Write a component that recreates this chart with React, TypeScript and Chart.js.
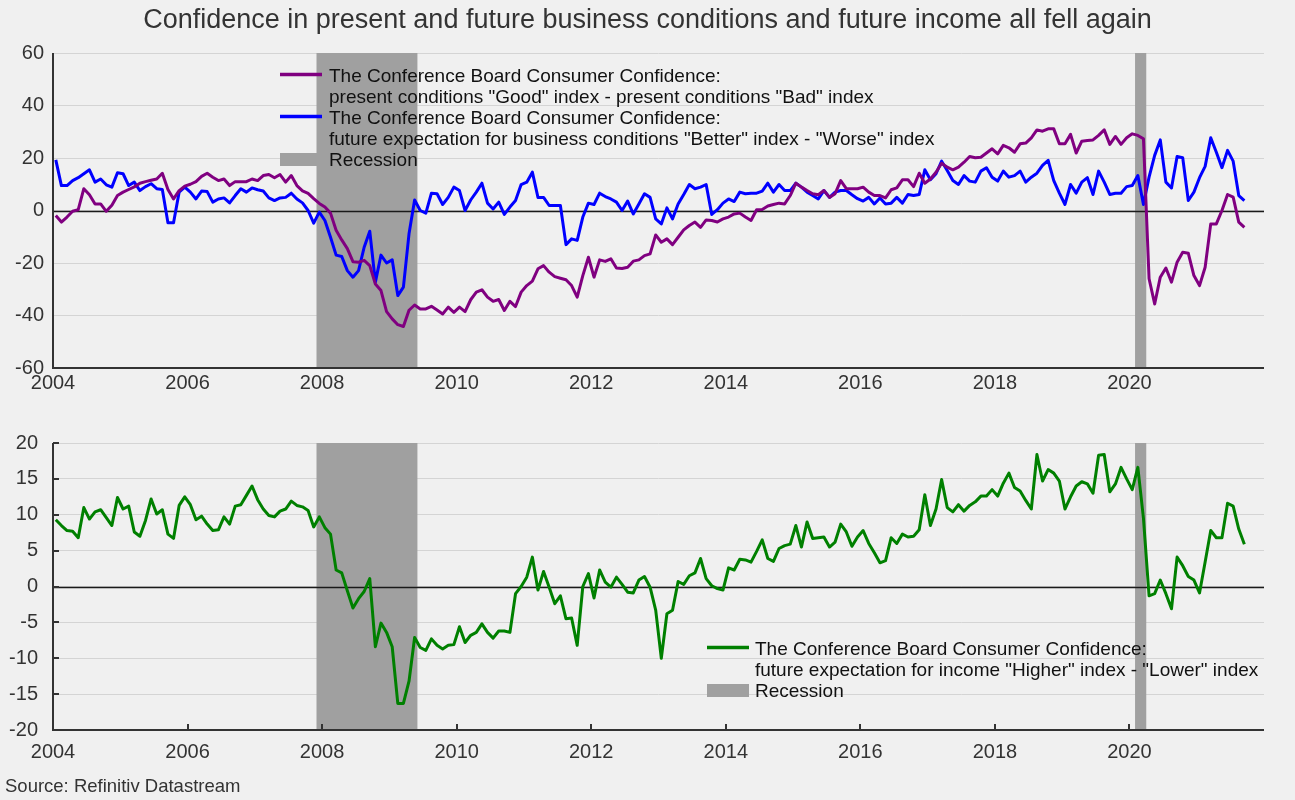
import React, { useEffect, useRef } from "react";
import { Chart, registerables } from "chart.js";

Chart.register(...registerables);

const FONT = "'Liberation Sans', Arial, Helvetica, sans-serif";

// Monthly observations, January 2004 through September 2021
const START_YEAR = 2004;
const X_MIN = 2004;
const X_MAX = 2022;
const X_STEP = 2;

const presentGoodMinusBad = [
  -1.9, -4.4, -2.5, -0.3, 0.3, 8.3, 6.0, 2.5, 2.5, -0.3, 2.0, 5.7, // 2004
  7.0, 8.0, 9.0, 10.4, 11.0, 11.5, 12.0, 14.2, 8.0, 4.4, 7.6, 9.3, // 2005
  10.0, 11.0, 13.0, 14.2, 12.7, 11.4, 12.0, 9.5, 11.0, 11.0, 11.0, 12.0, // 2006
  11.4, 13.3, 13.7, 12.5, 13.7, 10.8, 13.3, 9.5, 7.5, 6.5, 4.5, 2.7, // 2007
  1.3, -1.0, -7.5, -11.2, -14.5, -19.5, -19.7, -19.0, -21.0, -28.0, -30.5, -38.5, // 2008
  -41.3, -43.5, -44.2, -38.0, -36.0, -37.5, -37.5, -36.5, -37.9, -39.4, -36.8, -38.8, // 2009
  -36.8, -38.5, -34.0, -31.1, -30.2, -33.0, -34.6, -33.9, -38.1, -34.6, -36.6, -31.1, // 2010
  -28.6, -26.9, -22.2, -21.0, -23.5, -25.2, -25.8, -26.4, -28.6, -33.0, -24.8, -17.8, // 2011
  -25.4, -18.8, -19.4, -18.4, -21.9, -22.1, -21.6, -19.3, -18.8, -17.2, -16.5, -9.3, // 2012
  -12.1, -10.8, -13.0, -10.2, -7.4, -5.7, -4.4, -6.4, -3.6, -3.8, -4.4, -3.2, // 2013
  -2.5, -1.3, -1.0, -2.5, -3.8, 0.3, 0.4, 1.7, 2.3, 2.8, 2.5, 5.7, // 2014
  10.4, 8.9, 7.6, 6.4, 6.0, 7.6, 5.0, 6.4, 11.4, 8.3, 8.3, 8.3, // 2015
  8.9, 7.0, 5.7, 5.7, 4.8, 7.9, 8.6, 11.7, 11.7, 9.1, 14.2, 10.4, // 2016
  12.0, 14.6, 18.0, 16.5, 15.5, 16.5, 18.4, 20.6, 20.1, 20.3, 21.9, 23.5, // 2017
  21.6, 24.8, 23.9, 22.2, 25.4, 25.7, 27.7, 30.7, 30.2, 31.1, 31.1, 25.4, // 2018
  25.4, 29.0, 21.9, 26.4, 26.7, 26.9, 28.6, 30.7, 25.2, 28.2, 25.2, 27.7, // 2019
  29.2, 28.6, 27.3, -26.0, -35.6, -25.4, -21.9, -27.3, -19.7, -15.9, -16.3, -24.8, // 2020
  -28.6, -21.6, -5.1, -5.1, 0.0, 6.1, 5.1, -4.4, -6.4, // 2021
];

const businessBetterMinusWorse = [
  19.3, 9.5, 9.5, 11.4, 12.5, 14.0, 15.5, 10.8, 12.0, 9.8, 8.9, 14.4, // 2004
  14.0, 9.5, 10.8, 7.6, 9.1, 10.2, 8.3, 8.0, -4.7, -4.7, 7.0, 8.9, // 2005
  7.0, 4.4, 7.4, 7.2, 3.2, 4.4, 4.8, 2.9, 5.7, 8.3, 7.0, 8.6, // 2006
  7.9, 7.4, 4.8, 3.8, 4.8, 5.0, 6.6, 4.4, 2.9, 0.0, -4.8, -0.6, // 2007
  -3.8, -10.2, -17.0, -17.5, -22.9, -25.4, -22.9, -14.0, -7.9, -27.3, -17.0, -20.0, // 2008
  -18.8, -32.4, -29.2, -8.9, 4.0, 0.0, -1.0, 6.6, 6.4, 2.3, 5.0, 8.9, // 2009
  7.6, 0.0, 4.0, 7.0, 10.4, 2.8, 0.6, 3.2, -1.5, 1.3, 3.8, 9.9, // 2010
  10.8, 14.6, 5.0, 5.0, 1.9, 1.9, 1.9, -13.0, -10.8, -11.4, -2.5, 2.8, // 2011
  2.3, 6.6, 5.3, 4.4, 3.2, 0.0, 3.6, -1.3, 2.5, 6.4, 5.0, -3.2, // 2012
  -5.1, 1.0, -3.2, 2.5, 6.1, 9.9, 8.3, 8.9, 9.9, -1.5, 0.3, 2.8, // 2013
  4.4, 3.4, 7.0, 6.4, 6.6, 6.6, 7.4, 10.4, 7.0, 9.9, 7.6, 7.6, // 2014
  10.4, 8.9, 7.0, 5.7, 4.4, 7.6, 5.0, 7.0, 7.6, 7.6, 6.0, 4.5, // 2015
  3.6, 5.0, 2.5, 4.8, 2.5, 2.8, 5.0, 2.8, 6.1, 5.7, 6.1, 15.5, // 2016
  11.7, 14.0, 18.8, 15.2, 11.4, 9.9, 13.3, 11.2, 10.8, 15.0, 16.3, 12.7, // 2017
  11.2, 15.0, 12.7, 13.3, 15.0, 10.8, 12.7, 14.2, 17.2, 19.1, 11.4, 6.6, // 2018
  2.3, 9.9, 6.6, 10.8, 12.5, 6.1, 15.0, 10.8, 6.1, 6.6, 6.6, 9.1, // 2019
  9.5, 13.3, 2.3, 12.7, 21.0, 26.9, 10.8, 8.6, 20.6, 20.1, 3.8, 7.0, // 2020
  12.5, 16.8, 27.7, 22.2, 16.3, 22.9, 18.8, 5.7, 3.8, // 2021
];

const incomeHigherMinusLower = [
  9.3, 8.5, 7.8, 7.7, 6.8, 11.0, 9.4, 10.4, 10.7, 9.6, 8.5, 12.4, // 2004
  10.8, 11.2, 7.6, 7.0, 9.2, 12.2, 10.1, 10.7, 7.3, 6.7, 11.3, 12.5, // 2005
  11.4, 9.3, 9.8, 8.7, 7.8, 7.9, 9.7, 8.7, 11.2, 11.4, 12.7, 14.0, // 2006
  12.1, 10.8, 9.9, 9.7, 10.5, 10.8, 11.9, 11.3, 11.1, 10.6, 8.3, 9.7, // 2007
  8.2, 7.3, 2.3, 1.9, -0.6, -3.0, -1.7, -0.7, 1.1, -8.4, -5.1, -6.4, // 2008
  -8.4, -16.3, -16.3, -13.2, -7.1, -8.5, -8.9, -7.3, -8.2, -8.7, -8.2, -8.1, // 2009
  -5.6, -7.8, -6.8, -6.4, -5.2, -6.4, -7.2, -6.2, -6.2, -6.4, -1.0, 0.0, // 2010
  1.3, 4.1, -0.5, 2.1, -0.1, -2.4, -1.3, -4.5, -4.4, -8.2, 0.0, 1.8, // 2011
  -1.6, 2.3, 0.6, -0.1, 1.3, 0.3, -0.8, -0.9, 0.9, 1.4, -0.1, -3.3, // 2012
  -10.0, -3.8, -3.3, 0.7, 0.3, 1.5, 1.9, 3.9, 1.1, 0.1, -0.3, -0.5, // 2013
  2.6, 2.3, 3.8, 3.7, 3.4, 4.9, 6.5, 3.9, 3.5, 5.3, 5.7, 5.9, // 2014
  8.5, 5.5, 9.0, 6.7, 6.8, 6.9, 5.5, 6.2, 8.7, 7.6, 5.6, 6.9, // 2015
  7.8, 6.0, 4.7, 3.3, 3.6, 6.8, 6.0, 7.3, 6.9, 7.0, 7.9, 12.8, // 2016
  8.5, 10.8, 14.9, 11.0, 10.4, 11.4, 10.5, 11.3, 11.8, 12.6, 12.6, 13.5, // 2017
  12.6, 14.4, 15.8, 13.8, 13.3, 12.0, 10.8, 18.4, 14.7, 16.3, 15.8, 14.7, // 2018
  10.8, 12.5, 14.0, 14.6, 14.3, 13.0, 18.3, 18.4, 13.2, 14.3, 16.6, 15.0, // 2019
  13.5, 16.6, 9.5, -1.3, -1.0, 0.9, -1.0, -3.1, 4.1, 2.9, 1.4, 0.9, // 2020
  -0.9, 3.4, 7.8, 6.8, 6.8, 11.6, 11.2, 8.0, 5.9, // 2021
];

// NBER recessions (start of peak month to start of trough month)
const recessionStart = [2007 + 11 / 12, 2020 + 1 / 12];
const recessionEnd = [2009 + 5 / 12, 2020 + 3 / 12];

const TITLE =
  "Confidence in present and future business conditions and future income all fell again";
const SOURCE = "Source: Refinitiv Datastream";

const topLegendItems = [
  {
    kind: "line",
    color: "#800080",
    lines: [
      "The Conference Board Consumer Confidence:",
      'present conditions "Good" index - present conditions "Bad" index',
    ],
  },
  {
    kind: "line",
    color: "#0000ff",
    lines: [
      "The Conference Board Consumer Confidence:",
      'future expectation for business conditions "Better" index - "Worse" index',
    ],
  },
  { kind: "box", color: "#a0a0a0", lines: ["Recession"] },
];

const bottomLegendItems = [
  {
    kind: "line",
    color: "#008000",
    lines: [
      "The Conference Board Consumer Confidence:",
      'future expectation for income "Higher" index - "Lower" index',
    ],
  },
  { kind: "box", color: "#a0a0a0", lines: ["Recession"] },
];

const toPoints = (arr: number[]) =>
  arr.map((v, i) => ({ x: START_YEAR + (i + 0.5) / 12, y: v }));

const decorPlugin = {
  id: "decor",
  beforeDatasetsDraw(chart: any, _args: any, opts: any) {
    const { ctx, chartArea: a, scales } = chart;
    const xs = scales.x;
    const ys = scales.y;
    ctx.save();
    ctx.fillStyle = "#a0a0a0";
    for (let k = 0; k < recessionStart.length; k++) {
      const x0 = xs.getPixelForValue(recessionStart[k]);
      const x1 = xs.getPixelForValue(recessionEnd[k]);
      ctx.fillRect(x0, a.top, x1 - x0, a.bottom - a.top);
    }
    // zero line
    const y0 = Math.round(ys.getPixelForValue(0)) + 0.5;
    ctx.strokeStyle = "#1a1a1a";
    ctx.lineWidth = 1.3;
    ctx.beginPath();
    ctx.moveTo(a.left, y0);
    ctx.lineTo(a.right, y0);
    ctx.stroke();
    // axes
    ctx.strokeStyle = "#333333";
    ctx.lineWidth = 2;
    ctx.beginPath();
    ctx.moveTo(a.left, a.top);
    ctx.lineTo(a.left, a.bottom);
    ctx.lineTo(a.right, a.bottom);
    ctx.stroke();
    if (opts.innerTicks) {
      ctx.lineWidth = 2;
      ctx.beginPath();
      ys.ticks.forEach((t: any) => {
        const y = Math.round(ys.getPixelForValue(t.value));
        ctx.moveTo(a.left, y);
        ctx.lineTo(a.left + 6, y);
      });
      xs.ticks.forEach((t: any) => {
        if (t.value >= X_MAX) return;
        const x = Math.round(xs.getPixelForValue(t.value));
        ctx.moveTo(x, a.bottom);
        ctx.lineTo(x, a.bottom - 6);
      });
      ctx.stroke();
    }
    ctx.restore();
  },
  afterDatasetsDraw(chart: any, _args: any, opts: any) {
    const lg = opts.legend;
    if (!lg) return;
    const { ctx } = chart;
    ctx.save();
    ctx.font = `19px ${FONT}`;
    ctx.textBaseline = "alphabetic";
    ctx.textAlign = "left";
    let base = lg.baseline;
    lg.items.forEach((item: any) => {
      if (item.kind === "line") {
        ctx.strokeStyle = item.color;
        ctx.lineWidth = 3.5;
        ctx.beginPath();
        ctx.moveTo(lg.x, base - 7.5);
        ctx.lineTo(lg.x + lg.swatch, base - 7.5);
        ctx.stroke();
      } else {
        ctx.fillStyle = item.color;
        ctx.fillRect(lg.x, base - 13, lg.swatch, 13);
      }
      ctx.fillStyle = "#111111";
      item.lines.forEach((txt: string) => {
        ctx.fillText(txt, lg.textX, base);
        base += lg.step;
      });
    });
    ctx.restore();
  },
};

function buildConfig(p: {
  datasets: any[];
  yMin: number;
  yMax: number;
  yStep: number;
  padding: any;
  xPad: number;
  yPad: number;
  decor: any;
}) {
  const tickFont = { size: 20, family: FONT };
  return {
    type: "line",
    data: { datasets: p.datasets },
    options: {
      animation: false,
      responsive: false,
      maintainAspectRatio: false,
      events: [],
      layout: { padding: p.padding },
      plugins: {
        legend: { display: false },
        tooltip: { enabled: false },
        title: { display: false },
        decor: p.decor,
      },
      scales: {
        x: {
          type: "linear",
          min: X_MIN,
          max: X_MAX,
          afterFit: (s: any) => {
            s.height = 32;
          },
          grid: { display: false, drawTicks: false },
          border: { display: false },
          ticks: {
            stepSize: X_STEP,
            autoSkip: false,
            maxRotation: 0,
            padding: p.xPad,
            color: "#333333",
            font: tickFont,
            callback: (v: any) =>
              Number(v) >= X_MAX ? "" : String(Math.round(Number(v))),
          },
        },
        y: {
          min: p.yMin,
          max: p.yMax,
          afterFit: (s: any) => {
            s.width = 53;
          },
          grid: { color: "#d4d4d4", lineWidth: 1, drawTicks: false },
          border: { display: false },
          ticks: {
            stepSize: p.yStep,
            padding: p.yPad,
            color: "#333333",
            font: tickFont,
          },
        },
      },
    },
    plugins: [decorPlugin],
  };
}

const lineDs = (label: string, arr: number[], color: string) => ({
  label,
  data: toPoints(arr),
  borderColor: color,
  backgroundColor: color,
  borderWidth: 3,
  pointRadius: 0,
  tension: 0,
  fill: false,
  borderJoinStyle: "round",
});

export default function App() {
  const topRef = useRef<HTMLCanvasElement>(null);
  const botRef = useRef<HTMLCanvasElement>(null);

  useEffect(() => {
    const top = new Chart(
      topRef.current as HTMLCanvasElement,
      buildConfig({
        datasets: [
          lineDs("Present conditions Good - Bad", presentGoodMinusBad, "#800080"),
          lineDs("Business conditions Better - Worse", businessBetterMinusWorse, "#0000ff"),
        ],
        yMin: -60,
        yMax: 60,
        yStep: 20,
        padding: { top: 53, right: 31, bottom: 0, left: 0 },
        xPad: 3,
        yPad: 9,
        decor: {
          innerTicks: false,
          legend: { x: 280, swatch: 42, textX: 329, baseline: 82, step: 21, items: topLegendItems },
        },
      }) as any
    );
    const bottom = new Chart(
      botRef.current as HTMLCanvasElement,
      buildConfig({
        datasets: [lineDs("Income Higher - Lower", incomeHigherMinusLower, "#008000")],
        yMin: -20,
        yMax: 20,
        yStep: 5,
        padding: { top: 43, right: 31, bottom: 38, left: 0 },
        xPad: 10,
        yPad: 15,
        decor: {
          innerTicks: true,
          legend: { x: 707, swatch: 42, textX: 755, baseline: 255, step: 21, items: bottomLegendItems },
        },
      }) as any
    );
    return () => {
      top.destroy();
      bottom.destroy();
    };
  }, []);

  return (
    <div
      style={{
        position: "absolute",
        left: 0,
        top: 0,
        width: 1295,
        height: 800,
        background: "#f0f0f0",
        overflow: "hidden",
      }}
    >
      <canvas
        ref={topRef}
        width={1295}
        height={400}
        style={{ position: "absolute", left: 0, top: 0, width: 1295, height: 400 }}
      />
      <canvas
        ref={botRef}
        width={1295}
        height={400}
        style={{ position: "absolute", left: 0, top: 400, width: 1295, height: 400 }}
      />
      <div
        style={{
          position: "absolute",
          left: 0,
          top: 6,
          width: 1295,
          textAlign: "center",
          fontFamily: FONT,
          fontSize: 27,
          lineHeight: "27px",
          color: "#333333",
          whiteSpace: "nowrap",
        }}
      >
        {TITLE}
      </div>
      <div
        style={{
          position: "absolute",
          left: 5,
          top: 776,
          fontFamily: FONT,
          fontSize: 18.5,
          lineHeight: "19px",
          color: "#333333",
          whiteSpace: "nowrap",
        }}
      >
        {SOURCE}
      </div>
    </div>
  );
}
